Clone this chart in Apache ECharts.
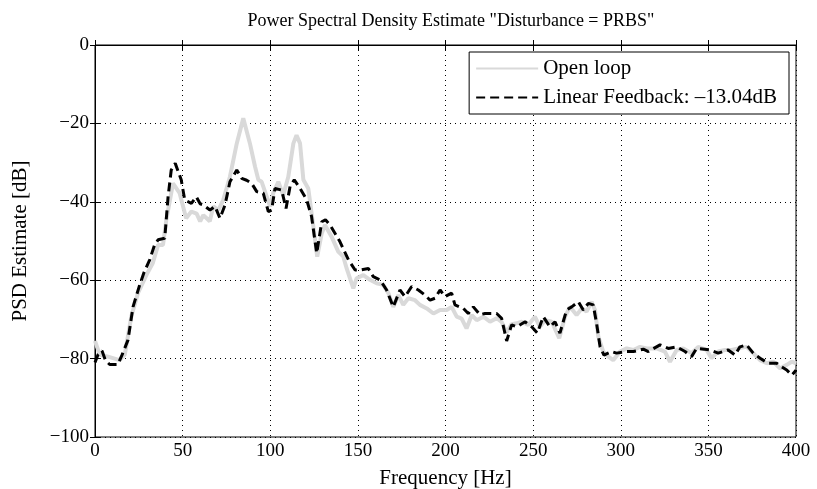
<!DOCTYPE html>
<html>
<head>
<meta charset="utf-8">
<script src="https://cdn.jsdelivr.net/npm/echarts@6/dist/echarts.min.js"></script>
<style>
  html, body { margin: 0; padding: 0; background: #fff; }
  #chart { width: 817px; height: 489px; }
</style>
</head>
<body>
<div id="chart"></div>
<script>
// open loop PSD (Hz, dB)
const freqOpen = [0, 2.7, 7.4, 14, 17, 20.7, 24.5, 29.3, 33, 36, 38.8, 40.7, 44.5, 48.3, 52, 55, 58, 60, 61.8, 63.7, 65.5, 67.5, 70.4, 73.2, 77, 80.9, 84.6, 88.4, 91.3, 93.2, 95.1, 98, 99.9, 101.7, 104.6, 107.4, 110.3, 113.2, 115, 117, 118.9, 121.7, 124.6, 126.8, 129.4, 131.2, 135, 138.8, 141.7, 143.6, 147.4, 149.3, 153.1, 156.9, 160.7, 164.5, 167.4, 170.2, 173.1, 175.9, 178.8, 182.6, 185.4, 189.3, 193.1, 196.9, 200.7, 203.5, 206.4, 209.2, 212, 215, 217.8, 221.6, 225.4, 229.2, 232, 234.9, 237.7, 240.6, 243.5, 247.2, 251, 253.9, 256.8, 260.6, 264.9, 268.2, 271, 274.8, 277.7, 280.5, 283.4, 285.3, 287.2, 290, 292.9, 295.7, 299.6, 303.4, 307.2, 311, 314.8, 320.5, 325.2, 328.1, 331.9, 335.7, 340.4, 344.2, 349, 351.8, 355.6, 359.5, 363.3, 367.1, 371.8, 375.6, 379.5, 383.3, 387.1, 390.9, 394.7, 397.6, 400]
const psdOpen = [-75.5, -79, -79.5, -80.4, -79, -69.3, -63.3, -58.7, -55.6, -51, -51, -44.6, -35.3, -37.8, -44.2, -42.5, -43, -45, -43.4, -44.2, -45, -41.2, -42.1, -39.5, -33.6, -25.1, -18.7, -25.1, -31, -34.4, -34.9, -38.7, -41.2, -37.8, -34.9, -38.3, -33.6, -25.1, -23, -25.1, -34.4, -36.6, -46.3, -54, -48, -45.9, -48.9, -52.7, -54, -57, -62.1, -59.5, -58.7, -59.9, -60.8, -61.2, -63.3, -66.8, -63.8, -66.3, -64.6, -65.1, -66.3, -67.2, -68.5, -67.6, -67.6, -66.8, -69.3, -69.8, -72.3, -68.9, -70.2, -69.3, -70.6, -69.7, -70.6, -73.3, -71.2, -71, -70.6, -71.4, -69.3, -71.9, -70.2, -70.6, -74.8, -69.3, -66.8, -68.9, -67.2, -68, -65.5, -67.6, -74.4, -78.2, -79.5, -80.4, -78.2, -77.4, -77.8, -77, -77.4, -77.4, -78.2, -80.8, -77.8, -77.4, -78.6, -77, -77.8, -79.9, -78.2, -77.8, -77.8, -77.4, -77, -78.6, -80.4, -81.2, -80.8, -82.5, -81.6, -80.8, -81.2]

// linear feedback PSD (Hz, dB)
const freqFb = [0, 1.7, 4, 6, 8.4, 13, 15.5, 18.8, 21.7, 25.5, 28, 31.2, 34, 36, 39.8, 41.7, 43.5, 45.8, 49.2, 51.2, 55, 57.8, 60, 61.8, 65.6, 68.5, 71.3, 74.2, 77, 80.9, 83.7, 86.5, 89.4, 92.3, 96, 98.9, 100.8, 102.7, 106.5, 109, 111.3, 113.7, 117, 120.8, 123.6, 126.5, 129.4, 131.5, 134.1, 139.8, 144.6, 148.4, 151.2, 156, 158.8, 162.6, 166.4, 170.2, 174, 176.9, 180.7, 184.5, 188.3, 191.2, 194, 196.9, 199.7, 203.5, 205.4, 210.2, 213, 215.9, 219.7, 222.5, 225.4, 229.2, 232, 233.5, 234.9, 237.7, 240.6, 245.4, 249.2, 252.4, 255.8, 259.6, 262.5, 265.3, 269.1, 272, 275.8, 278.6, 281.5, 284.3, 286.2, 288.2, 290.4, 294.8, 297.6, 303.4, 307.2, 312.9, 315.7, 322.4, 327.1, 331.9, 336.7, 340.4, 343.3, 350.9, 355.6, 361.3, 365.2, 368, 371.8, 375.6, 379.5, 384.2, 389, 391.8, 394.7, 397.6, 400]
const psdFb = [-81, -79, -78, -80.5, -81.5, -81.5, -79, -75.3, -66.8, -61.2, -58, -54.8, -51, -49.7, -49.3, -38.7, -31.9, -30.2, -34.4, -39.5, -40.4, -38.7, -40.5, -40.8, -42.1, -41.2, -44.2, -40.8, -34.9, -31.9, -34, -34.5, -35.3, -37.4, -37.8, -42.5, -42.1, -36.6, -37, -41.7, -36.1, -34.4, -36.6, -39.5, -43.8, -53.1, -45.1, -44.6, -45.9, -50.2, -54.8, -57.4, -57.4, -57, -59.1, -59.9, -62.5, -66.8, -62.5, -64.2, -61.6, -62.5, -63.8, -65.1, -64.6, -62.5, -64.2, -63.3, -66.3, -67.2, -68.5, -66.8, -68.8, -68.5, -68.5, -68.5, -69.7, -72.7, -75.5, -71.4, -71.9, -70.6, -71.9, -73.5, -69.3, -71.9, -70.6, -73.5, -67.6, -66.8, -65.5, -67.6, -65.9, -66.3, -71, -77, -79.1, -78.2, -78.6, -78.2, -78.2, -77.6, -78.2, -76.5, -77.4, -77, -78.2, -79.5, -77.4, -77.8, -78.6, -77.8, -79.1, -77, -76.5, -78.6, -79.9, -81.2, -81.2, -82.1, -82.9, -84.2, -83]

const seriesNames = ['Open loop', 'Linear Feedback: \u201313.04dB']

const FONT = '"Liberation Serif", "DejaVu Serif", serif'

const chart = echarts.init(document.getElementById('chart'))

function pairs(xs, ys) {
  return xs.map((x, i) => [x, ys[i]])
}

const tickStyle = { show: true, inside: true, length: 5, lineStyle: { color: '#000' } }
const gridDots = { show: true, lineStyle: { color: '#000', width: 1, type: [1, 4] } }

chart.setOption({
  backgroundColor: '#fff',
  animation: false,
  title: {
    text: 'Power Spectral Density Estimate "Disturbance = PRBS"',
    left: 446,
    top: 7,
    textAlign: 'center',
    textStyle: { fontFamily: FONT, fontSize: 18, fontWeight: 'normal', color: '#000' },
  },
  grid: {
    left: 95, right: 21, top: 45, bottom: 52,
    outerBoundsMode: 'none',
    show: true, borderColor: '#000', borderWidth: 1,
  },
  legend: {
    orient: 'vertical',
    right: 28,
    top: 52,
    itemWidth: 62,
    itemHeight: 14,
    itemGap: 8,
    padding: [6, 12, 6, 6],
    borderColor: '#000',
    borderWidth: 1,
    backgroundColor: '#fff',
    itemStyle: { opacity: 0 },
    textStyle: { fontFamily: FONT, fontSize: 21, color: '#000' },
    data: seriesNames,
  },
  xAxis: [{
    type: 'value',
    min: 0, max: 400, interval: 50,
    name: 'Frequency [Hz]',
    nameLocation: 'middle',
    nameGap: 31,
    nameTextStyle: { fontFamily: FONT, fontSize: 21, color: '#000' },
    axisLine: { show: true, lineStyle: { color: '#000' } },
    axisTick: tickStyle,
    axisLabel: { fontFamily: FONT, fontSize: 19, color: '#000', margin: 5 },
    splitLine: gridDots,
  }, {
    type: 'value', position: 'top',
    min: 0, max: 400, interval: 50,
    axisLine: { show: true, lineStyle: { color: '#000' } },
    axisTick: tickStyle,
    axisLabel: { show: false },
    splitLine: { show: false },
  }],
  yAxis: [{
    type: 'value',
    min: -100, max: 0, interval: 20,
    name: 'PSD Estimate [dB]',
    nameLocation: 'middle',
    nameGap: 64,
    nameTextStyle: { fontFamily: FONT, fontSize: 21, color: '#000' },
    axisLine: { show: true, lineStyle: { color: '#000' } },
    axisTick: tickStyle,
    axisLabel: { fontFamily: FONT, fontSize: 19, color: '#000', margin: 6,
      formatter: v => String(v).replace('-', '\u2212') },
    splitLine: gridDots,
  }, {
    type: 'value', position: 'right',
    min: -100, max: 0, interval: 20,
    axisLine: { show: true, lineStyle: { color: '#000' } },
    axisTick: tickStyle,
    axisLabel: { show: false },
    splitLine: { show: false },
  }],
  series: [{
    name: seriesNames[0],
    type: 'line',
    data: pairs(freqOpen, psdOpen),
    symbol: 'none',
    lineStyle: { color: '#d9d9d9', width: 4 },
    itemStyle: { color: '#d9d9d9' },
  }, {
    name: seriesNames[1],
    type: 'line',
    data: pairs(freqFb, psdFb),
    symbol: 'none',
    lineStyle: { color: '#000', width: 3, type: [9, 5] },
    itemStyle: { color: '#000' },
  }],
})
</script>
</body>
</html>
